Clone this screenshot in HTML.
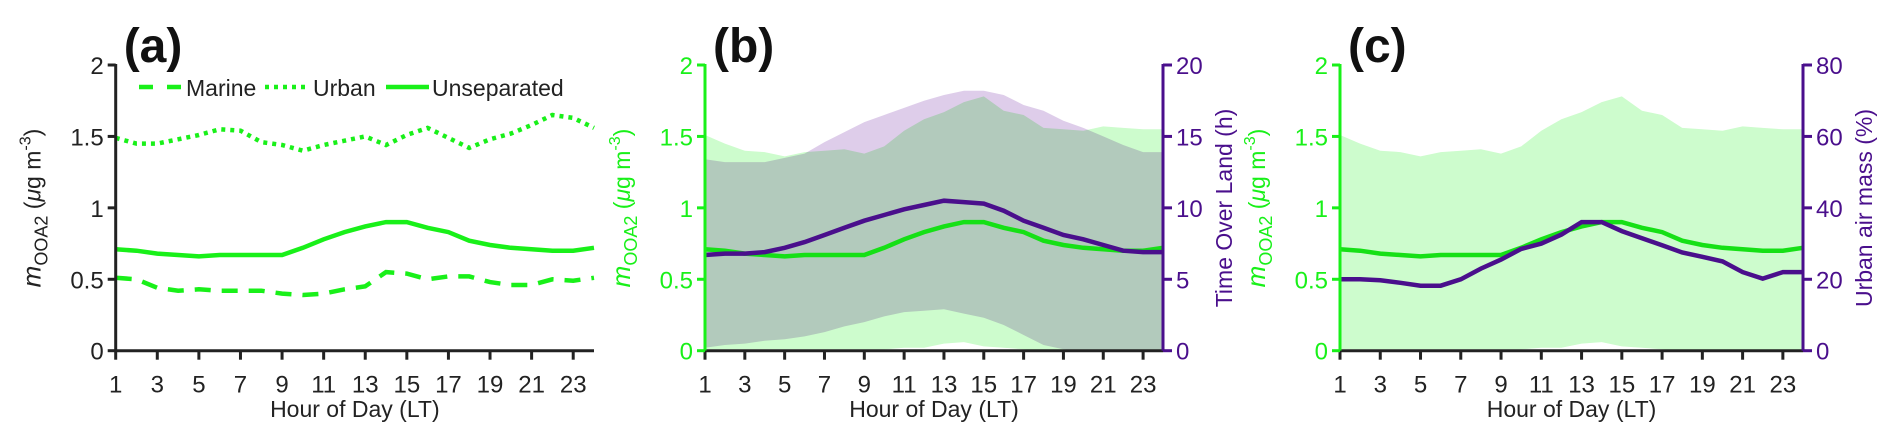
<!DOCTYPE html>
<html><head><meta charset="utf-8"><style>
body{margin:0;background:#fff}
svg{display:block;font-family:"Liberation Sans",sans-serif}
</style></head><body>
<svg id="fig" width="1892" height="447" viewBox="0 0 1892 447" xmlns="http://www.w3.org/2000/svg"></svg>
<script>
const hours=[1,2,3,4,5,6,7,8,9,10,11,12,13,14,15,16,17,18,19,20,21,22,23,24];
const xTicks=[1,3,5,7,9,11,13,15,17,19,21,23];
const yTicks=[0,0.5,1,1.5,2];
const yTickLabels=["0","0.5","1","1.5","2"];
const tolTicks=[0,5,10,15,20];
const urbTicks=[0,20,40,60,80];
const unseparated=[0.71,0.70,0.68,0.67,0.66,0.67,0.67,0.67,0.67,0.72,0.78,0.83,0.87,0.90,0.90,0.86,0.83,0.77,0.74,0.72,0.71,0.70,0.70,0.72];
const marine=[0.51,0.50,0.44,0.42,0.43,0.42,0.42,0.42,0.40,0.39,0.40,0.43,0.45,0.55,0.54,0.50,0.52,0.52,0.48,0.46,0.46,0.50,0.49,0.51];
const urban=[1.49,1.45,1.45,1.48,1.51,1.55,1.54,1.46,1.44,1.40,1.44,1.47,1.50,1.44,1.51,1.56,1.49,1.42,1.48,1.52,1.58,1.65,1.63,1.56];
const ooaUpper=[1.51,1.45,1.40,1.39,1.36,1.39,1.40,1.41,1.38,1.43,1.54,1.62,1.67,1.74,1.78,1.68,1.65,1.56,1.55,1.54,1.57,1.56,1.55,1.55];
const ooaLower=[0.01,0.01,0.01,0.01,0.01,0.01,0.01,0.01,0.01,0.01,0.02,0.02,0.05,0.06,0.03,0.02,0.01,0,0,0,0,0,0,0];
const tolUpper=[13.4,13.2,13.2,13.2,13.5,13.8,14.6,15.3,16.0,16.5,17.0,17.5,17.9,18.2,18.2,17.9,17.2,16.8,16.1,15.6,15.0,14.4,13.9,13.9];
const tolLower=[0.2,0.4,0.5,0.7,0.8,1.0,1.3,1.7,2.0,2.4,2.7,2.8,2.9,2.6,2.3,1.8,1.1,0.4,0.1,0,0,0,0,0];
const tolMean=[6.7,6.8,6.8,6.9,7.2,7.6,8.1,8.6,9.1,9.5,9.9,10.2,10.5,10.4,10.3,9.8,9.1,8.6,8.1,7.8,7.4,7.0,6.9,6.9];
const urbanPct=[20,20,19.7,19,18.2,18.2,20,23,25.5,28.5,30,32.5,36,36,33.5,31.5,29.5,27.5,26.3,25,22,20.2,22,22];

const NS="http://www.w3.org/2000/svg";
const svg=document.getElementById('fig');
function mk(tag,attrs,parent,text){const e=document.createElementNS(NS,tag);for(const k in attrs)e.setAttribute(k,attrs[k]);if(text!==undefined)e.textContent=text;(parent||svg).appendChild(e);return e;}
const GREEN="#19f019",PURPLE="#4a0f8c",Y0=350.7,Y2=65;
function panel(x0,x1,letter,opt){
  const g=mk('g',{});
  
  
  const sx=h=>x0+(h-1)*(x1-x0)/23;
  const sy=v=>Y0-(v/2)*(Y0-Y2);
  const line=(arr,f)=>arr.map((v,i)=>(i?'L':'M')+sx(hours[i]).toFixed(1)+','+f(v).toFixed(1)).join(' ');
  const band=(up,lo,f)=>line(up,f)+' '+lo.map((v,i)=>'L'+sx(hours[lo.length-1-i]).toFixed(1)+','+f(lo[lo.length-1-i]).toFixed(1)).join(' ')+'Z';
  const sr=opt.rmax?(v=>Y0-(v/opt.rmax)*(Y0-Y2)):null;
  if(opt.bands){
    const b1=mk('path',{d:band(ooaUpper,ooaLower,sy),fill:'#cdfccd'},g);
    
    
    if(opt.tol){
      const b2=mk('path',{d:band(tolUpper,tolLower,sr),fill:'#decdea',style:'mix-blend-mode:multiply'},g);
      
      
    }
  }
  const lc=opt.left?GREEN:'#222';
  if(opt.a){
    const m=mk('path',{d:line(marine,sy),fill:'none',stroke:GREEN,'stroke-width':4.5,'stroke-dasharray':'16 11'},g);
    
    const u=mk('path',{d:line(urban,sy),fill:'none',stroke:GREEN,'stroke-width':4.5,'stroke-dasharray':'4 5'},g);
    
  }
  const un=mk('path',{d:line(unseparated,sy),fill:'none',stroke:opt.a?GREEN:'#16e016','stroke-width':4.5},g);
  
  if(opt.tol){
    const p=mk('path',{d:line(tolMean,sr),fill:'none',stroke:PURPLE,'stroke-width':4.5},g);
    
  }
  if(opt.urb){
    const p=mk('path',{d:line(urbanPct,sr),fill:'none',stroke:PURPLE,'stroke-width':4.5},g);
    
  }
  mk('line',{x1:x0,y1:Y0,x2:x1,y2:Y0,stroke:'#222','stroke-width':3},g);
  mk('line',{x1:x0,y1:Y2-1,x2:x0,y2:Y0,stroke:lc,'stroke-width':3},g);
  xTicks.forEach(t=>{
    mk('line',{x1:sx(t),y1:Y0,x2:sx(t),y2:Y0+9,stroke:'#222','stroke-width':3},g);
    const tl=mk('text',{x:sx(t),y:Y0+42,'font-size':24,'text-anchor':'middle',fill:'#222'},g,String(t));
    
  });
  yTicks.forEach((t,i)=>{
    mk('line',{x1:x0-8,y1:sy(t),x2:x0,y2:sy(t),stroke:lc,'stroke-width':3},g);
    const tl=mk('text',{x:x0-12,y:sy(t)+9,'font-size':24,'text-anchor':'end',fill:lc},g,yTickLabels[i]);
    
  });
  if(opt.rmax){
    mk('line',{x1:x1,y1:Y2-1,x2:x1,y2:Y0,stroke:PURPLE,'stroke-width':3},g);
    opt.rticks.forEach(t=>{
      mk('line',{x1:x1,y1:sr(t),x2:x1+9,y2:sr(t),stroke:PURPLE,'stroke-width':3},g);
      const tl=mk('text',{x:x1+13,y:sr(t)+9,'font-size':24,fill:PURPLE},g,String(t));
      
    });
    const rt=mk('text',{transform:`translate(${opt.rtx},208) rotate(-90)`,'font-size':23,'text-anchor':'middle',fill:PURPLE},g,opt.rtitle);
    
  }
  const xt=mk('text',{x:(x0+x1)/2,y:417,'font-size':23,'text-anchor':'middle',fill:'#222'},g,'Hour of Day (LT)');
  
  const yt=mk('text',{transform:`translate(${x0-75},208) rotate(-90)`,'font-size':23,'text-anchor':'middle',fill:lc},g);
  
  mk('tspan',{'font-style':'italic','font-size':26},yt,'m');
  mk('tspan',{'font-size':18,dy:7},yt,'OOA2');
  mk('tspan',{dy:-7},yt,' (');
  mk('tspan',{'font-style':'italic'},yt,'μ');
  mk('tspan',{},yt,'g m');
  mk('tspan',{'font-size':16,dy:-10},yt,'-3');
  mk('tspan',{dy:10},yt,')');
  const pl=mk('text',{x:x0+8,y:62,'font-size':48,'font-weight':'bold',fill:'#111'},g,'('+letter+')');
  
  return g;
}
panel(115.7,594,'a',{a:true});
panel(705,1163,'b',{left:true,bands:true,tol:true,rmax:20,rticks:tolTicks,rtitle:'Time Over Land (h)',rtx:1232});
panel(1340,1803,'c',{left:true,bands:true,urb:true,rmax:80,rticks:urbTicks,rtitle:'Urban air mass (%)',rtx:1872});
const lg=mk('g',{});


const l1=mk('line',{x1:139,y1:87,x2:183,y2:87,stroke:GREEN,'stroke-width':4.5,'stroke-dasharray':'14 14'},lg);

mk('text',{x:186,y:96,'font-size':23,fill:'#222'},lg,'Marine');
const l2=mk('line',{x1:265,y1:87,x2:307,y2:87,stroke:GREEN,'stroke-width':4.5,'stroke-dasharray':'4 5'},lg);

mk('text',{x:313,y:96,'font-size':23,fill:'#222'},lg,'Urban');
const l3=mk('line',{x1:386,y1:87,x2:429,y2:87,stroke:GREEN,'stroke-width':4.5},lg);

mk('text',{x:432,y:96,'font-size':23,fill:'#222'},lg,'Unseparated');
</script>
</body></html>
